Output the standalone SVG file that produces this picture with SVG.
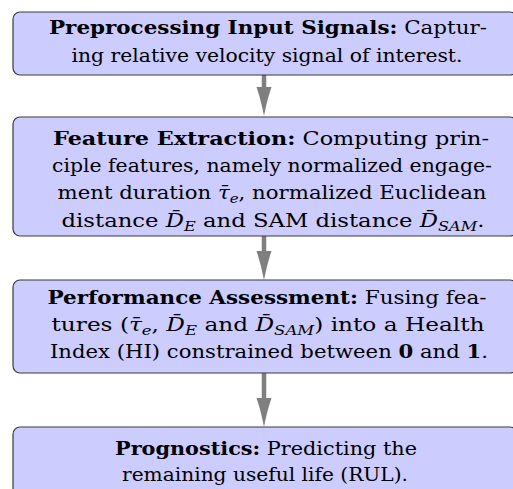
<svg xmlns="http://www.w3.org/2000/svg" width="513" height="489" viewBox="0 0 513 489">
  <style>
    .box { fill: #ccccff; stroke: #3a3a3a; stroke-width: 1.2; }
    .t { font-family: 'DejaVu Serif', 'Liberation Serif', serif; font-size: 19px; fill: #000; text-anchor: middle; }
    .b { font-weight: bold; }
    .m { font-style: italic; }
    .s { font-style: italic; font-size: 13.5px; }
    .link { stroke: #7f7f7f; stroke-width: 4.5; fill: none; }
  </style>
  <defs>
    <marker id="head" markerUnits="userSpaceOnUse" markerWidth="30" markerHeight="18" viewBox="0 -9 30 18" refX="1" refY="0" orient="auto">
      <path d="M0,-7.5 Q13,-3 29,0 Q13,3 0,7.5 Z" fill="#7f7f7f"/>
    </marker>
  </defs>

  <!-- connectors -->
  <g id="connectors">
    <line class="link" x1="264" y1="75" x2="264" y2="88" marker-end="url(#head)"/>
    <line class="link" x1="264" y1="236" x2="264" y2="252" marker-end="url(#head)"/>
    <line class="link" x1="264" y1="373" x2="264" y2="399" marker-end="url(#head)"/>
  </g>

  <g id="preprocessing">
    <rect class="box" x="13" y="12" width="504" height="63" rx="7"/>
    <text class="t" x="268" y="34" textLength="438" lengthAdjust="spacingAndGlyphs"><tspan class="b">Preprocessing Input Signals:</tspan> Captur-</text>
    <text class="t" x="267" y="62" textLength="391" lengthAdjust="spacingAndGlyphs">ing relative velocity signal of interest.</text>
  </g>

  <g id="feature-extraction">
    <rect class="box" x="13" y="117" width="504" height="119" rx="7"/>
    <text class="t" x="271" y="145" textLength="436" lengthAdjust="spacingAndGlyphs"><tspan class="b">Feature Extraction:</tspan> Computing prin-</text>
    <text class="t" x="272" y="172" textLength="440" lengthAdjust="spacingAndGlyphs">ciple features, namely normalized engage-</text>
    <text class="t" x="272" y="199" textLength="429" lengthAdjust="spacingAndGlyphs">ment duration <tspan class="m">τ̄</tspan><tspan class="s" dy="4">e</tspan><tspan dy="-4">, normalized Euclidean</tspan></text>
    <text class="t" x="273" y="227" textLength="423" lengthAdjust="spacingAndGlyphs">distance <tspan class="m">D̄</tspan><tspan class="s" dy="4">E</tspan><tspan dy="-4"> and SAM distance </tspan><tspan class="m">D̄</tspan><tspan class="s" dy="4">SAM</tspan><tspan dy="-4">.</tspan></text>
  </g>

  <g id="performance-assessment">
    <rect class="box" x="13" y="280" width="504" height="93" rx="7"/>
    <text class="t" x="267" y="304" textLength="439" lengthAdjust="spacingAndGlyphs"><tspan class="b">Performance Assessment:</tspan> Fusing fea-</text>
    <text class="t" x="268" y="331" textLength="433" lengthAdjust="spacingAndGlyphs">tures (<tspan class="m">τ̄</tspan><tspan class="s" dy="4">e</tspan><tspan dy="-4">, </tspan><tspan class="m">D̄</tspan><tspan class="s" dy="4">E</tspan><tspan dy="-4"> and </tspan><tspan class="m">D̄</tspan><tspan class="s" dy="4">SAM</tspan><tspan dy="-4">) into a Health</tspan></text>
    <text class="t" x="269" y="358" textLength="438" lengthAdjust="spacingAndGlyphs">Index (HI) constrained between <tspan class="b">0</tspan> and <tspan class="b">1</tspan>.</text>
  </g>

  <g id="prognostics">
    <rect class="box" x="13" y="427" width="504" height="80" rx="7"/>
    <text class="t" x="266" y="455" textLength="302" lengthAdjust="spacingAndGlyphs"><tspan class="b">Prognostics:</tspan> Predicting the</text>
    <text class="t" x="265" y="481" textLength="286" lengthAdjust="spacingAndGlyphs">remaining useful life (RUL).</text>
  </g>
</svg>
